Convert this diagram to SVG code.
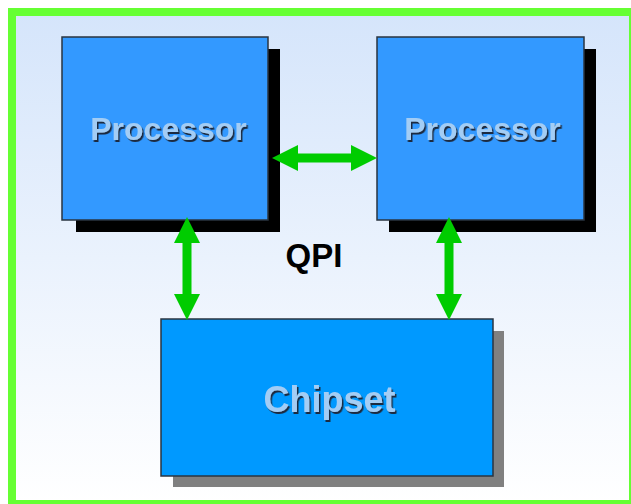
<svg xmlns="http://www.w3.org/2000/svg" width="631" height="504" viewBox="0 0 631 504">
<defs>
<linearGradient id="bg" x1="0" y1="0" x2="0" y2="1">
<stop offset="0" stop-color="#d5e5fb"/>
<stop offset="1" stop-color="#ffffff"/>
</linearGradient>
<filter id="tsh" x="-10%" y="-20%" width="120%" height="150%">
<feDropShadow dx="1.5" dy="2" stdDeviation="0.4" flood-color="#1a2a40" flood-opacity="1"/>
</filter>
<polygon id="ah" points="0,0 26,-13 26,13"/>
</defs>
<style>
.box{stroke:#2a3440;stroke-width:1.5}
.proc{fill:#3399ff}
.chip{fill:#0099ff}
.lbl{font-family:"Liberation Sans",Arial,sans-serif;font-weight:bold;text-anchor:middle}
.lt{fill:#a3cdf5;filter:url(#tsh)}
.arr{fill:#00cc00}
</style>
<rect x="12" y="12" width="621" height="492" fill="url(#bg)" stroke="#66ff33" stroke-width="8"/>
<g id="processor1">
<rect x="76" y="49" width="204" height="183" fill="#000"/>
<rect class="box proc" x="62" y="37" width="206" height="183"/>
<text class="lbl lt" x="168.5" y="140" font-size="32">Processor</text>
</g>
<g id="processor2">
<rect x="389" y="49" width="207" height="183" fill="#000"/>
<rect class="box proc" x="377" y="37" width="207" height="183"/>
<text class="lbl lt" x="482.5" y="140" font-size="32">Processor</text>
</g>
<g id="chipset">
<rect x="173" y="331" width="331" height="156" fill="#808080"/>
<rect class="box chip" x="161" y="319" width="332" height="157"/>
<text class="lbl lt" x="329.5" y="412" font-size="36">Chipset</text>
</g>
<g id="qpi-label">
<text class="lbl" x="314" y="267" font-size="33" fill="#000">QPI</text>
</g>
<g id="connectors" class="arr">
<rect x="296" y="153.5" width="58" height="9"/>
<use href="#ah" transform="translate(272,158)"/>
<use href="#ah" transform="translate(377,158) rotate(180)"/>
<rect x="182.5" y="241" width="9" height="54"/>
<use href="#ah" transform="translate(187,217) rotate(90)"/>
<use href="#ah" transform="translate(187,320) rotate(-90)"/>
<rect x="444.5" y="241" width="9" height="54"/>
<use href="#ah" transform="translate(449,217) rotate(90)"/>
<use href="#ah" transform="translate(449,320) rotate(-90)"/>
</g>
</svg>
